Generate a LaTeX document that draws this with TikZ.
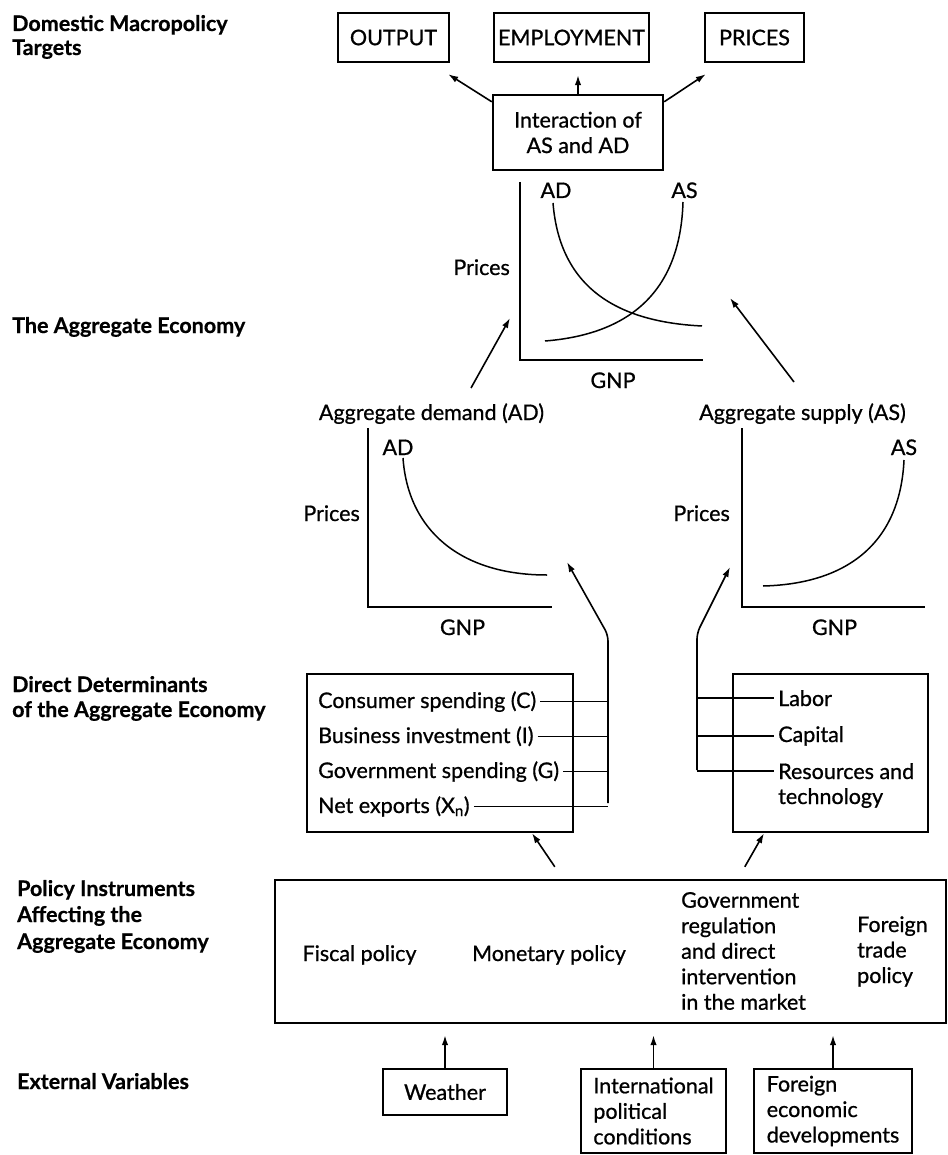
\documentclass[tikz,border=0pt]{standalone}
\usepackage{fontspec}
\setmainfont{Lato}[UprightFeatures={FakeBold=0.8},BoldFeatures={FakeBold=0.6}]
\usetikzlibrary{arrows.meta,calc}
\begin{document}
\begin{tikzpicture}[x=1pt,y=-1pt,
  every node/.style={font=\fontsize{21.5}{25.5}\selectfont, inner sep=0pt},
  head/.style={font=\fontsize{21.5}{24}\selectfont\bfseries, anchor=base west},
  lab/.style={anchor=base},
  box/.style={draw, line width=2.4pt},
  axis/.style={line width=2.6pt},
  curve/.style={line width=1.5pt},
  arr/.style={line width=1.6pt, -{Latex[length=10pt,width=6.5pt]}},
  bus/.style={line width=1.4pt},
]
\useasboundingbox (0,0) rectangle (947,1155);

% ---------- left headings ----------
\node[head] (h1a) at (12,31) {Domestic Macropolicy};
\node[head] (h1b) at (12,55) {Targets};
\node[head] (h2) at (12,333) {The Aggregate Economy};
\node[head] (h3a) at (12,692) {Direct Determinants};
\node[head] (h3b) at (12,717) {of the Aggregate Economy};
\node[head] (h4a) at (17,896) {Policy Instruments};
\node[head] (h4b) at (17,922) {Affecting the};
\node[head] (h4c) at (17,949) {Aggregate Economy};
\node[head] (h5) at (17,1089) {External Variables};

% ---------- targets ----------
\node[box, minimum width=111pt, minimum height=49pt] (out) at (393.5,37.5) {OUTPUT};
\node[box, minimum width=155pt, minimum height=49pt] (emp) at (571.5,37.5) {EMPLOYMENT};
\node[box, minimum width=99pt, minimum height=49pt] (pri) at (754.5,37.5) {PRICES};
\node[box, minimum width=170pt, minimum height=75pt, align=center] (inter) at (578,132.5) {Interaction of\\AS and AD};

\draw[arr] ([yshift=-8pt]inter.north west) -- ([xshift=-2pt,yshift=-11pt]out.south east);
\draw[arr] (inter.north) -- ([yshift=-12pt]emp.south -| inter.north);
\draw[arr] ([yshift=-8pt]inter.north east) -- ([xshift=2pt,yshift=-11pt]pri.south west);

% ---------- aggregate economy graph ----------
\coordinate (g0o) at (520,360);
\draw[axis] (520,182) -- (g0o) -- (703,360);
\node[lab] (g0ad) at (556,198) {AD};
\node[lab] (g0as) at (684.5,198) {AS};
\node[anchor=base east] (g0p) at (510,275) {Prices};
\node[lab] (g0g) at (613,388) {GNP};
\draw[curve] (553,203) .. controls (560,290) and (620,322) .. (702,326);
\draw[curve] (545,341) .. controls (620,335) and (680,300) .. (683,202);

\node[lab] (agd) at (431.5,420) {Aggregate demand (AD)};
\node[lab] (ags) at (802.5,420) {Aggregate supply (AS)};
\coordinate (adTail) at (471,388);
\coordinate (adTip) at (510,318);
\coordinate (asTail) at (794,382);
\coordinate (asTip) at (730,298);
\draw[arr] (adTail) -- (adTip);
\draw[arr] (asTail) -- (asTip);

% ---------- AD graph ----------
\draw[axis] (368,428) -- (368,607) -- (552,607);
\node[lab] (g1ad) at (398,455) {AD};
\node[anchor=base east] (g1p) at (360,521) {Prices};
\node[lab] (g1g) at (462.5,635) {GNP};
\draw[curve] (403,458) .. controls (408,530) and (460,575) .. (547,575);

% ---------- AS graph ----------
\draw[axis] (742,428) -- (742,607) -- (925,607);
\node[lab] (g2as) at (904,455) {AS};
\node[anchor=base east] (g2p) at (730,521) {Prices};
\node[lab] (g2g) at (834.5,635) {GNP};
\draw[curve] (763,586) .. controls (845,584) and (900,545) .. (904,460);

% ---------- determinants ----------
\node[box, minimum width=266pt, minimum height=158pt] (detL) at (440,753) {};
\node[box, minimum width=195pt, minimum height=158pt] (detR) at (830.5,753) {};

\coordinate (busL) at (608,803);
\coordinate (busR) at (697,770);

\node[anchor=base west] (c1) at (318,708) {Consumer spending (C)};
\node[anchor=base west] (c2) at (318,743) {Business investment (I)};
\node[anchor=base west] (c3) at (318,778) {Government spending (G)};
\node[anchor=base west] (c4) at (318,813) {Net exports (X\textsubscript{n})};
\foreach \n in {c1,c2,c3,c4}
  \draw[bus] ([xshift=4pt]\n.east) -- (\n.east -| busL);

\node[anchor=base west] (r1) at (778,706) {Labor};
\node[anchor=base west] (r2) at (778,742) {Capital};
\node[anchor=base west] (r3) at (778,779) {Resources and};
\node[anchor=base west] (r4) at (778,804) {technology};
\foreach \n in {r1,r2,r3}
  \draw[bus] (busR |- \n.west) -- ([xshift=-4pt]\n.west);

\draw[arr, rounded corners=6pt] (busL) -- (608,635) -- (567,562);
\draw[arr, rounded corners=6pt] (busR) -- (697,633) -- (730,567);

% ---------- policy instruments ----------
\node[box, minimum width=671pt, minimum height=143pt] (pol) at (610.5,951.5) {};
\node[lab] (p1) at (359.5,961) {Fiscal policy};
\node[lab] (p2) at (549,961) {Monetary policy};
\node[align=left, anchor=west] (p3) at (681,951) {Government\\regulation\\and direct\\intervention\\in the market};
\node[align=left, anchor=west] (p4) at (857,951.5) {Foreign\\trade\\policy};

\draw[arr] ([xshift=281pt,yshift=12pt]pol.north west) -- ([xshift=92pt]detL.south);
\draw[arr] ([xshift=471pt,yshift=12pt]pol.north west) -- ([xshift=-66.5pt]detR.south);

% ---------- external variables ----------
\node[box, minimum width=124pt, minimum height=46pt] (wea) at (445,1092) {Weather};
\node[box, minimum width=145pt, minimum height=84pt, align=left] (intl) at (653.5,1111) {International\\political\\conditions};
\node[box, minimum width=158pt, minimum height=84pt, align=left] (forg) at (833,1111) {Foreign\\economic\\developments};

\draw[arr] (wea.north) -- ([yshift=-11pt]pol.south -| wea.north);
\draw[arr] (intl.north) -- ([yshift=-11pt]pol.south -| intl.north);
\draw[arr] (forg.north) -- ([yshift=-11pt]pol.south -| forg.north);
\end{tikzpicture}
\end{document}
